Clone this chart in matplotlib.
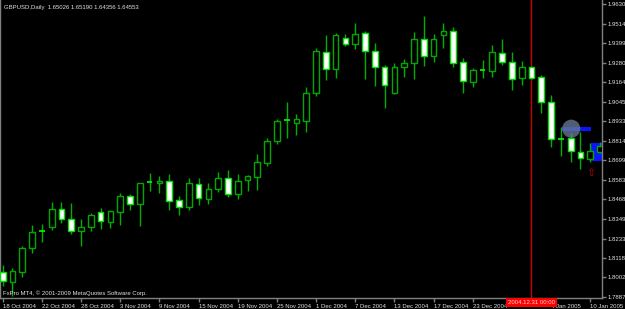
import matplotlib
matplotlib.use("Agg")
import matplotlib.pyplot as plt
from matplotlib.patches import Rectangle
from matplotlib.transforms import blended_transform_factory

# ---- data -------------------------------------------------------------
opens = [1.80359, 1.79763, 1.80324, 1.81754, 1.82785, 1.83005, 1.84078, 1.83482, 1.82767, 1.83005,
         1.83899, 1.83339, 1.83935, 1.84870, 1.84376, 1.85687, 1.85645, 1.85764, 1.84632, 1.84233,
         1.85568, 1.84709, 1.85270, 1.85961, 1.84972, 1.85824, 1.86020, 1.86855, 1.88166, 1.89395,
         1.89203, 1.89357, 1.90990, 1.93469, 1.92438, 1.94303, 1.93910, 1.94566, 1.93529, 1.92540,
         1.91026, 1.92540, 1.92778, 1.94226, 1.93213, 1.94446, 1.94721, 1.92838, 1.91681, 1.92379,
         1.92337, 1.93410, 1.92838, 1.91884, 1.92540, 1.91944, 1.90490, 1.88267, 1.88309, 1.87510,
         1.87057, 1.87510]
highs = [1.80759, 1.80598, 1.81891, 1.83142, 1.83184, 1.84531, 1.84531, 1.84435, 1.83482, 1.83839,
         1.84137, 1.83994, 1.85067, 1.84972, 1.85663, 1.86223, 1.86062, 1.86181, 1.84870, 1.85961,
         1.85943, 1.85663, 1.86318, 1.86420, 1.86181, 1.86122, 1.87355, 1.88309, 1.89459, 1.90454,
         1.89739, 1.91348, 1.93672, 1.94464, 1.94566, 1.94506, 1.95162, 1.94703, 1.94006, 1.92677,
         1.92778, 1.93016, 1.94661, 1.95597, 1.94524, 1.95162, 1.94959, 1.93076, 1.92516, 1.92975,
         1.93868, 1.94226, 1.93433, 1.92915, 1.92617, 1.92081, 1.90889, 1.89000, 1.88607, 1.88702,
         1.88011, 1.88100]
lows = [1.79507, 1.78911, 1.80061, 1.81492, 1.82147, 1.82844, 1.83279, 1.82606, 1.81909, 1.82803,
        1.82922, 1.82946, 1.83142, 1.84036, 1.83083, 1.85168, 1.85067, 1.84036, 1.83738, 1.84036,
        1.84334, 1.84394, 1.85127, 1.84793, 1.84674, 1.85186, 1.85228, 1.86676, 1.87951, 1.88309,
        1.88505, 1.88666, 1.90847, 1.91783, 1.91920, 1.93809, 1.93612, 1.91842, 1.91443, 1.90132,
        1.90949, 1.91979, 1.91842, 1.92635, 1.92838, 1.93672, 1.92540, 1.91026, 1.91348, 1.91884,
        1.91979, 1.92677, 1.91187, 1.91485, 1.91813, 1.89798, 1.87808, 1.87272, 1.86914, 1.86461,
        1.86914, 1.87450]
closes = [1.79805, 1.80401, 1.81790, 1.82743, 1.82790, 1.84078, 1.83482, 1.82803, 1.83005, 1.83738,
          1.83381, 1.83959, 1.84870, 1.84376, 1.85627, 1.85680, 1.85764, 1.84590, 1.84197, 1.85663,
          1.84733, 1.85270, 1.85961, 1.84972, 1.85764, 1.86062, 1.86914, 1.88166, 1.89340, 1.89405,
          1.89441, 1.90990, 1.93493, 1.92438, 1.94446, 1.93910, 1.94524, 1.93511, 1.92557, 1.91503,
          1.92540, 1.92778, 1.94226, 1.93231, 1.94208, 1.94721, 1.92814, 1.91723, 1.92379, 1.92385,
          1.93433, 1.92838, 1.91860, 1.92540, 1.91884, 1.90454, 1.88249, 1.88260, 1.87552, 1.87117,
          1.87552, 1.87850]

date_tick_bars = [0, 4, 8, 12, 16, 20, 24, 28, 32, 36, 40, 44, 48, 52, 56, 60]
# the label under bar 52 (29 Dec 2004) is hidden by the red time box in the reference
date_tick_labels = ["18 Oct 2004", "22 Oct 2004", "28 Oct 2004", "3 Nov 2004", "9 Nov 2004",
                    "15 Nov 2004", "19 Nov 2004", "25 Nov 2004", "1 Dec 2004", "7 Dec 2004",
                    "13 Dec 2004", "17 Dec 2004", "23 Dec 2004", "", "4 Jan 2005",
                    "10 Jan 2005"]
price_ticks = [1.96300, 1.95145, 1.93990, 1.92800, 1.91645, 1.90450, 1.89335, 1.88145,
               1.86990, 1.85835, 1.84680, 1.83490, 1.82335, 1.81180, 1.80025, 1.78870]
price_tick_labels = ["1.96300", "1.95145", "1.93990", "1.92800", "1.91645", "1.90450",
                     "1.89335", "1.88145", "1.86990", "1.85835", "1.84680", "1.83490",
                     "1.82335", "1.81180", "1.80025", "1.78870"]

vline_bar = 54
vline_label = "2004.12.31 00:00"
circle_bar, circle_price = 58.06, 1.88881
hbar_x0, hbar_x1, hbar_p0, hbar_p1 = 57.15, 60.07, 1.88744, 1.88958
box_x0, box_x1, box_p0, box_p1 = 60.07, 61.3, 1.86974, 1.88011
arrow_bar, arrow_price = 60.07, 1.86241

title_text = "GBPUSD,Daily  1.65026 1.65190 1.64356 1.64553"
copyright_text = "FxPro MT4, \u00a9 2001-2009 MetaQuotes Software Corp."

# ---- figure -----------------------------------------------------------
FONT = ["Liberation Sans", "DejaVu Sans"]
plt.rcParams["font.family"] = FONT
FS = 4.3
TXT = "#e0e0e0"

W, H = 625, 309
fig = plt.figure(figsize=(W / 100, H / 100), dpi=100, facecolor="black")
ax = fig.add_axes([0, 11 / H, 602 / W, 298 / H], facecolor="black")

ax.set_xlim(-0.276, 61.2)
ax.set_ylim(1.78792, 1.96550)

BULL_EDGE = "#00a800"
BEAR_EDGE = "#00e000"
WICK = "#00b000"
body_w = 0.58

for i, (o, h, l, c) in enumerate(zip(opens, highs, lows, closes)):
    ax.vlines(i, l, h, color=WICK, lw=1.0, zorder=2)
    if abs(c - o) < 0.00015:
        ax.hlines((o + c) / 2, i - body_w / 2, i + body_w / 2, color="#00ff00", lw=1.2, zorder=3)
    elif c > o:
        ax.add_patch(Rectangle((i - body_w / 2, o), body_w, c - o, facecolor="black",
                               edgecolor=BULL_EDGE, lw=1.0, zorder=3))
    else:
        ax.add_patch(Rectangle((i - body_w / 2, c), body_w, o - c, facecolor="white",
                               edgecolor=BEAR_EDGE, lw=1.0, zorder=3))

# objects
ax.axvline(vline_bar, color="#c80000", lw=1.0, zorder=1)
ax.add_patch(Rectangle((hbar_x0, hbar_p0), hbar_x1 - hbar_x0, hbar_p1 - hbar_p0,
                       facecolor="#0a14ff", edgecolor="none", zorder=4))
ax.add_patch(Rectangle((box_x0, box_p0), box_x1 - box_x0, box_p1 - box_p0,
                       facecolor="#0a14ff", edgecolor="none", zorder=1.5))
ax.scatter([circle_bar], [circle_price], s=170, color="#6a7f98", alpha=0.75,
           edgecolors="none", zorder=5)
ax.text(arrow_bar, arrow_price, "\u21e7", color="#b00000", fontsize=8, ha="center",
        va="center", family=["DejaVu Sans"], zorder=6)

# axes styling
ax.spines["top"].set_visible(False)
for side in ["left", "bottom", "right"]:
    ax.spines[side].set_color("#808080")
    ax.spines[side].set_linewidth(1.0)

ax.yaxis.tick_right()
ax.set_yticks(price_ticks)
ax.set_yticklabels(price_tick_labels)
ax.tick_params(axis="y", direction="out", length=3, width=1, color="#808080",
               labelcolor=TXT, labelsize=FS, pad=1)

ax.set_xticks(date_tick_bars)
ax.set_xticklabels(date_tick_labels, ha="left")
ax.tick_params(axis="x", direction="out", length=3, width=1, color="#808080",
               labelcolor=TXT, labelsize=FS, pad=1)

trans = blended_transform_factory(ax.transData, ax.transAxes)
ax.text(vline_bar, -0.006, vline_label, transform=trans, ha="center", va="top",
        fontsize=FS, color="#ffd0d0", zorder=10, clip_on=False,
        bbox=dict(boxstyle="square,pad=0.35", facecolor="#ff0000", edgecolor="none"))

fig.text(4 / W, 1 - 7 / H, title_text, color=TXT, fontsize=FS, ha="left", va="center")
fig.text(3 / W, 1 - 293 / H, copyright_text, color=TXT, fontsize=FS, ha="left",
         va="center")

fig.savefig("out.png", dpi=100, facecolor="black")
